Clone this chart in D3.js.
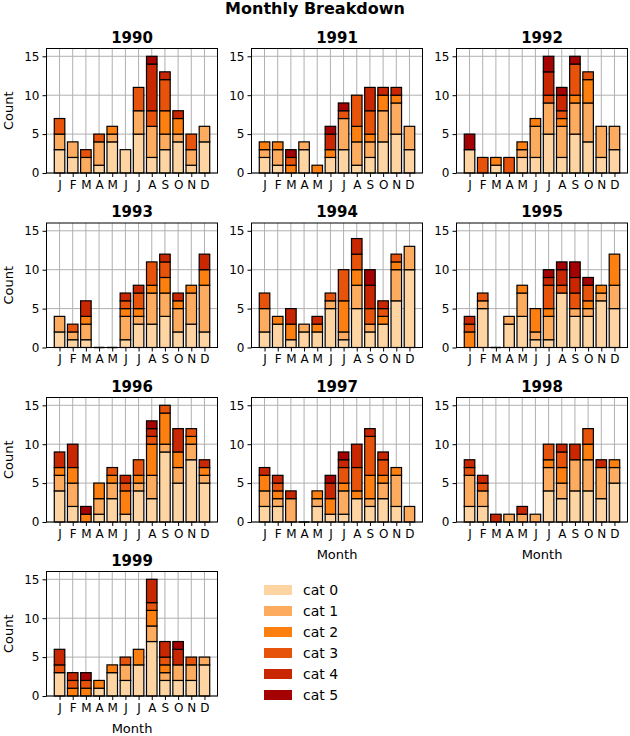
<!DOCTYPE html>
<html>
<head>
    <meta charset="utf-8">
    <title>Monthly Breakdown</title>
    <script src="https://d3js.org/d3.v7.min.js"></script>
    <style>
        body {
            margin: 0;
            background-color: #ffffff;
        }
        text {
            font-family: "DejaVu Sans", sans-serif;
        }
    </style>
</head>
<body>
    <script>
        var years = ["1990", "1991", "1992", "1993", "1994", "1995", "1996", "1997", "1998", "1999"];
        var months = ["J", "F", "M", "A", "M", "J", "J", "A", "S", "O", "N", "D"];
        var cats = ["cat 0", "cat 1", "cat 2", "cat 3", "cat 4", "cat 5"];
        var catColors = ["#fdd4a2", "#fdab5f", "#fd7f0f", "#e8530b", "#c92702", "#a50303"];
        var yTicks = [0, 5, 10, 15];

        // one row per month, one number per category (cat 0 .. cat 5)
        var y1990 = [[3,2,0,2,0,0],[2,2,0,0,0,0],[0,2,0,1,0,0],[1,3,0,1,0,0],[4,1,1,0,0,0],[3,0,0,0,0,0],
                     [5,3,0,3,0,0],[2,4,0,2,6,1],[3,2,3,4,1,0],[4,1,2,0,1,0],[1,2,0,2,0,0],[4,2,0,0,0,0]];
        var y1991 = [[2,1,1,0,0,0],[1,2,1,0,0,0],[0,0,1,1,0,1],[3,1,0,0,0,0],[0,0,1,0,0,0],[2,0,1,0,2,1],
                     [3,4,0,1,0,1],[1,3,2,4,0,0],[2,2,1,3,3,0],[4,4,2,0,1,0],[5,4,1,0,1,0],[3,3,0,0,0,0]];
        var y1992 = [[3,0,0,0,0,2],[0,0,0,2,0,0],[1,0,1,0,0,0],[0,0,0,2,0,0],[2,1,1,0,0,0],[2,4,1,0,0,0],
                     [5,4,0,1,3,2],[2,4,1,1,2,1],[5,4,1,4,0,1],[4,5,3,1,0,0],[2,4,0,0,0,0],[3,3,0,0,0,0]];
        var y1993 = [[2,2,0,0,0,0],[1,1,0,1,0,0],[1,2,1,0,2,0],[0,0,0,0,0,0],[0,0,0,0,0,0],[1,3,1,1,1,0],
                     [3,1,1,2,1,0],[3,4,1,3,0,0],[4,3,2,2,1,0],[2,3,1,0,1,0],[3,4,1,0,0,0],[2,6,2,0,2,0]];
        var y1994 = [[2,3,0,2,0,0],[3,0,1,0,0,0],[1,0,2,0,2,0],[2,1,0,0,0,0],[2,0,1,0,1,0],[5,1,0,1,0,0],
                     [1,1,4,4,0,0],[5,3,2,2,2,0],[2,1,0,2,3,2],[3,0,1,1,1,0],[6,4,1,1,0,0],[10,3,0,0,0,0]];
        var y1995 = [[0,0,2,1,1,0],[5,1,0,1,0,0],[0,0,0,0,0,0],[3,1,0,0,0,0],[4,3,1,0,0,0],[1,1,3,0,0,0],
                     [1,3,1,3,1,1],[7,0,0,1,2,1],[4,1,0,2,2,2],[4,1,1,2,0,1],[6,1,1,0,0,0],[5,3,4,0,0,0]];
        var y1996 = [[4,2,1,0,2,0],[2,3,2,0,3,0],[0,0,1,0,0,1],[1,2,2,0,0,0],[3,2,1,1,0,0],[1,0,3,1,1,0],
                     [4,1,1,2,0,0],[3,3,4,1,1,1],[9,1,4,1,0,0],[5,2,2,0,3,0],[8,2,1,1,0,0],[5,1,1,0,1,0]];
        var y1997 = [[2,2,2,0,1,0],[2,1,1,1,1,0],[0,3,0,0,1,0],[0,0,0,0,0,0],[2,1,1,0,0,0],[1,0,2,0,2,1],
                     [1,3,1,2,1,1],[3,0,1,3,3,0],[2,1,3,5,1,0],[3,2,1,2,1,0],[2,4,1,0,0,0],[0,2,0,0,0,0]];
        var y1998 = [[2,4,0,1,1,0],[2,2,0,1,1,0],[0,0,0,0,1,0],[0,1,0,0,0,0],[0,1,0,0,1,0],[0,1,0,0,0,0],
                     [4,3,1,2,0,0],[3,2,2,2,1,0],[4,4,0,0,2,0],[4,4,2,2,0,0],[3,4,0,0,1,0],[5,2,1,0,0,0]];
        var y1999 = [[3,0,0,1,2,0],[0,0,1,1,1,0],[0,0,1,1,0,1],[1,0,1,0,0,0],[3,0,1,0,0,0],[2,2,0,1,0,0],
                     [4,0,2,0,0,0],[7,2,2,1,3,0],[2,1,1,1,2,0],[2,2,0,0,2,1],[2,2,0,1,0,0],[4,1,0,0,0,0]];

        var counts = [y1990, y1991, y1992, y1993, y1994, y1995, y1996, y1997, y1998, y1999];

        var width = 630;
        var height = 736;
        var colLeft = [46.5, 251.5, 456.5];
        var rowTop = [48.5, 223, 397.5, 571.5];
        var pw = 171;
        var ph = 124.5;
        var gridColor = "#b0b0b0";

        var svg = d3.select("body")
            .append("svg")
            .attr("width", width)
            .attr("height", height);

        svg.append("text")
            .attr("x", width / 2)
            .attr("y", 14)
            .attr("text-anchor", "middle")
            .attr("font-size", 16)
            .attr("font-weight", "bold")
            .text("Monthly Breakdown");

        var x = d3.scaleLinear().domain([-0.99, 11.99]).range([0, pw]);
        var y = d3.scaleLinear().domain([0, 16]).range([ph, 0]);
        var barW = x(0.8) - x(0);

        var stack = d3.stack()
            .keys(d3.range(cats.length))
            .value(function (d, k) { return d[k]; });

        counts.forEach(function (data, i) {
            var col = i % 3, row = Math.floor(i / 3);
            var g = svg.append("g")
                .attr("transform", "translate(" + colLeft[col] + "," + rowTop[row] + ")");

            // grid
            g.selectAll(".vgrid")
                .data(d3.range(12))
                .enter()
                .append("line")
                .attr("x1", function (d) { return x(d); })
                .attr("x2", function (d) { return x(d); })
                .attr("y1", 0)
                .attr("y2", ph)
                .attr("stroke", gridColor)
                .attr("stroke-width", 1);

            g.selectAll(".hgrid")
                .data(yTicks)
                .enter()
                .append("line")
                .attr("x1", 0)
                .attr("x2", pw)
                .attr("y1", function (d) { return y(d); })
                .attr("y2", function (d) { return y(d); })
                .attr("stroke", gridColor)
                .attr("stroke-width", 1);

            var series = stack(data);

            series.forEach(function (s, k) {
                g.selectAll(".seg" + k)
                    .data(s.filter(function (d) { return d[1] > d[0]; }))
                    .enter()
                    .append("rect")
                    .attr("x", function (d) { return x(data.indexOf(d.data)) - barW / 2; })
                    .attr("y", function (d) { return y(d[1]); })
                    .attr("width", barW)
                    .attr("height", function (d) { return y(d[0]) - y(d[1]); })
                    .attr("fill", catColors[k])
                    .attr("stroke", "#000")
                    .attr("stroke-width", 1.2);
            });

            // months with no counts still get a flat edge at zero
            g.selectAll(".empty")
                .data(d3.range(12).filter(function (m) { return d3.sum(data[m]) == 0; }))
                .enter()
                .append("line")
                .attr("x1", function (m) { return x(m) - barW / 2; })
                .attr("x2", function (m) { return x(m) + barW / 2; })
                .attr("y1", y(0))
                .attr("y2", y(0))
                .attr("stroke", "#000")
                .attr("stroke-width", 1.5);

            g.append("g")
                .attr("transform", "translate(0," + ph + ")")
                .call(d3.axisBottom(x).tickValues(d3.range(12)).tickFormat(function (m) { return months[m]; })
                    .tickSize(4).tickPadding(3))
                .call(function (a) {
                    a.select(".domain").remove();
                    a.selectAll("text").attr("font-size", 12).attr("fill", "#000")
                        .attr("font-family", "DejaVu Sans");
                    a.selectAll("line").attr("stroke", "#000");
                });

            g.append("g")
                .call(d3.axisLeft(y).tickValues(yTicks).tickSize(4).tickPadding(3))
                .call(function (a) {
                    a.select(".domain").remove();
                    a.selectAll("text").attr("font-size", 12).attr("fill", "#000")
                        .attr("font-family", "DejaVu Sans");
                    a.selectAll("line").attr("stroke", "#000");
                });

            g.append("rect")
                .attr("width", pw)
                .attr("height", ph)
                .attr("fill", "none")
                .attr("stroke", "#000")
                .attr("stroke-width", 1);

            g.append("text")
                .attr("x", pw / 2)
                .attr("y", -6)
                .attr("text-anchor", "middle")
                .attr("font-size", 15)
                .attr("font-weight", "bold")
                .text(years[i]);

            if (col == 0) {
                g.append("text")
                    .attr("transform", "translate(-34," + ph / 2 + ") rotate(-90)")
                    .attr("text-anchor", "middle")
                    .attr("font-size", 13)
                    .text("Count");
            }
            if (i >= 7) {
                g.append("text")
                    .attr("x", pw / 2)
                    .attr("y", ph + 37)
                    .attr("text-anchor", "middle")
                    .attr("font-size", 13)
                    .text("Month");
            }
        });

        // legend, no frame
        var legend = svg.append("g")
            .attr("transform", "translate(264,585)");

        cats.forEach(function (c, k) {
            legend.append("rect")
                .attr("x", 0)
                .attr("y", k * 21)
                .attr("width", 28)
                .attr("height", 10)
                .attr("fill", catColors[k]);
            legend.append("text")
                .attr("x", 39)
                .attr("y", k * 21 + 10)
                .attr("font-size", 14)
                .text(c);
        });
    </script>
</body>
</html>
